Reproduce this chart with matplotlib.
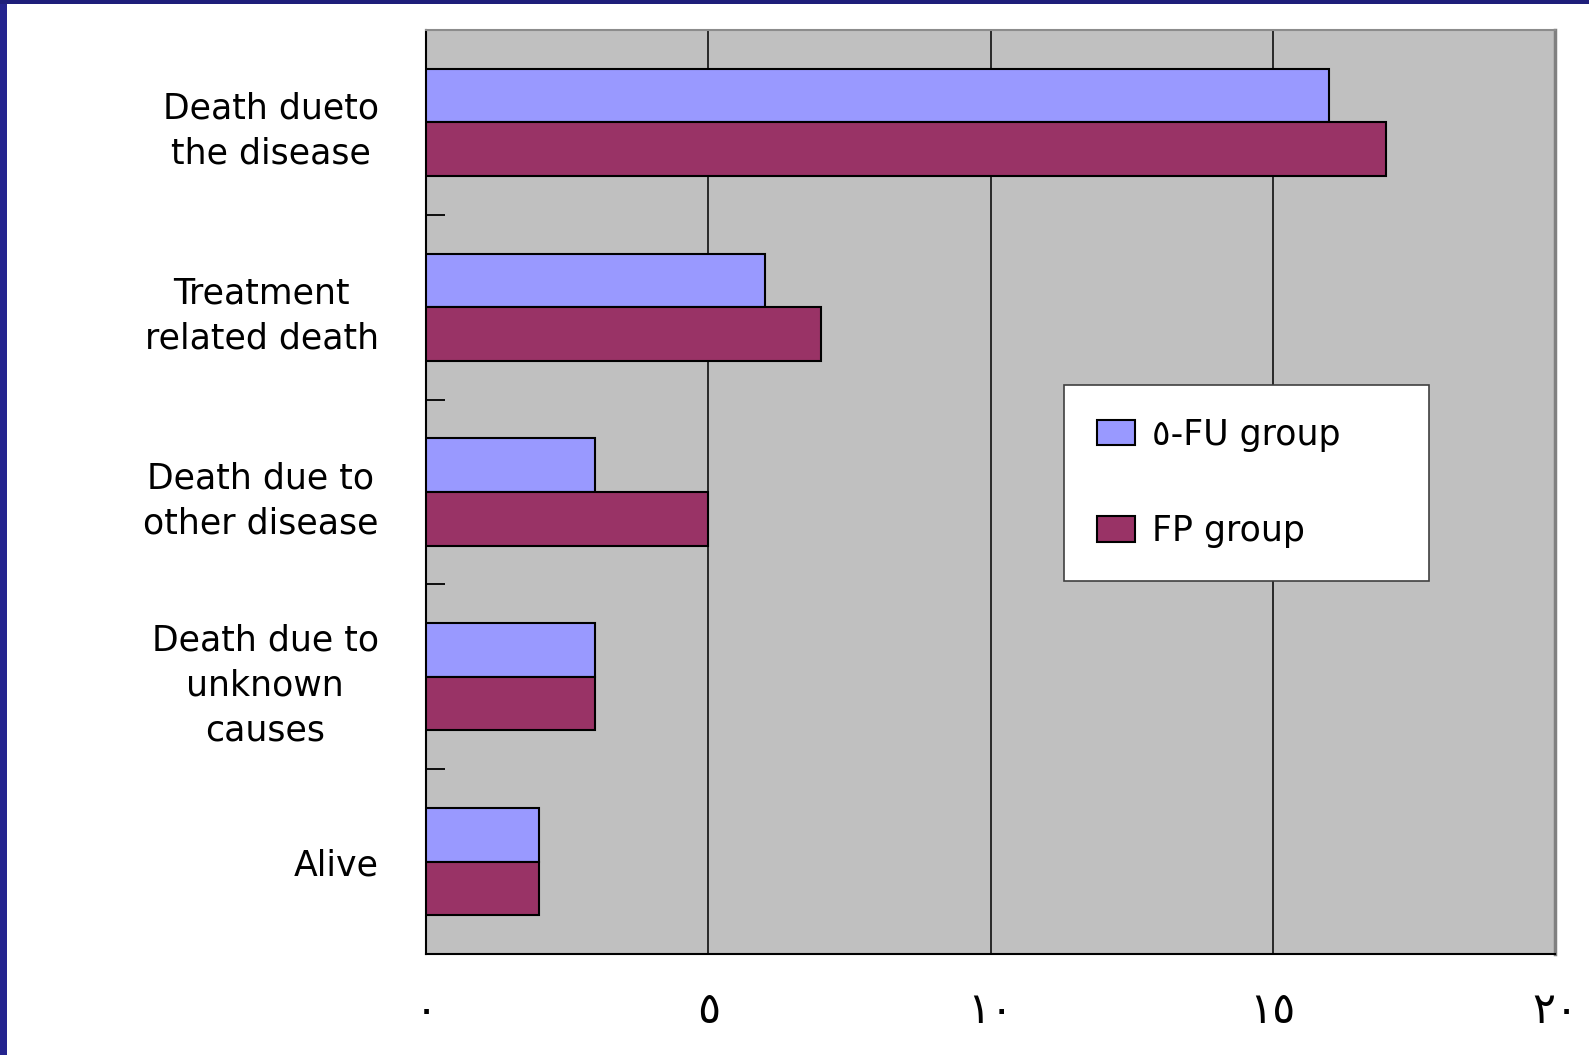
import matplotlib
matplotlib.use("Agg")
import matplotlib.pyplot as plt
import numpy as np
from matplotlib.patches import Rectangle

# outcome categories, top to bottom
categories = [
    "Death dueto\nthe disease",
    "Treatment\nrelated death",
    "Death due to\nother disease",
    "Death due to\nunknown\ncauses",
    "Alive",
]
fu_group = [16, 6, 3, 3, 2]
fp_group = [17, 7, 5, 3, 2]
series_labels = ["\u0665-FU group", "FP group"]
x_ticks = [0, 5, 10, 15, 20]
x_tick_labels = ["\u0660", "\u0665", "\u0661\u0660", "\u0661\u0665", "\u0662\u0660"]

plt.rcParams["font.family"] = ["DejaVu Sans"]

fig = plt.figure(figsize=(15.89, 10.55), dpi=100)
fig.patch.set_facecolor("white")

# slide frame: blue strips on the left and top edges
fig.patches.append(Rectangle((0, 0), 7 / 1589, 1, transform=fig.transFigure,
                             facecolor="#24248f", edgecolor="none", zorder=0))
fig.patches.append(Rectangle((0, 1 - 4 / 1055), 1, 4 / 1055, transform=fig.transFigure,
                             facecolor="#1e1e7a", edgecolor="none", zorder=0))

ax = fig.add_axes([426 / 1589, 1 - 954 / 1055, (1555 - 426) / 1589, (954 - 30) / 1055])
ax.set_facecolor("#c0c0c0")

y = np.arange(len(categories))
bar_h = 0.29
ax.barh(y - bar_h / 2, fu_group, height=bar_h, color="#9999ff", edgecolor="black",
        linewidth=1.5, label=series_labels[0], zorder=3)
ax.barh(y + bar_h / 2, fp_group, height=bar_h, color="#993366", edgecolor="black",
        linewidth=1.5, label=series_labels[1], zorder=3)

ax.set_xlim(0, 20)
ax.set_ylim(len(categories) - 0.5, -0.5)

ax.set_xticks(x_ticks)
ax.set_xticklabels(x_tick_labels, fontsize=31)
ax.tick_params(axis="x", length=0, pad=26)
ax.xaxis.grid(True, color="black", linewidth=1.1, zorder=1)
ax.set_axisbelow(True)

ax.set_yticks(y)
ax.set_yticklabels(categories, fontsize=25, linespacing=1.4)
for lbl in ax.get_yticklabels():
    lbl.set_multialignment("center")
ax.tick_params(axis="y", which="major", length=0, pad=34)
ax.set_yticks(y[:-1] + 0.5, minor=True)
ax.tick_params(axis="y", which="minor", direction="in", length=14, width=1.3, color="black")

ax.spines["left"].set_linewidth(1.5)
ax.spines["bottom"].set_linewidth(1.5)
ax.spines["top"].set_color("#8c8c8c")
ax.spines["top"].set_linewidth(1.5)
ax.spines["right"].set_color("#808080")
ax.spines["right"].set_linewidth(2.5)

# legend box stretched to a fixed width inside the plot area
leg = ax.legend(loc="upper left", bbox_to_anchor=(0.565, 0.405, 0.323, 0.211),
                mode="expand", fontsize=25,
                frameon=True, fancybox=False, edgecolor="#404040", framealpha=1,
                handlelength=1.1, handleheight=0.75, handletextpad=0.5,
                labelspacing=1.8, borderpad=0.95, borderaxespad=0)
leg.get_frame().set_linewidth(1.2)

fig.savefig("out.png", dpi=100, facecolor=fig.get_facecolor())
